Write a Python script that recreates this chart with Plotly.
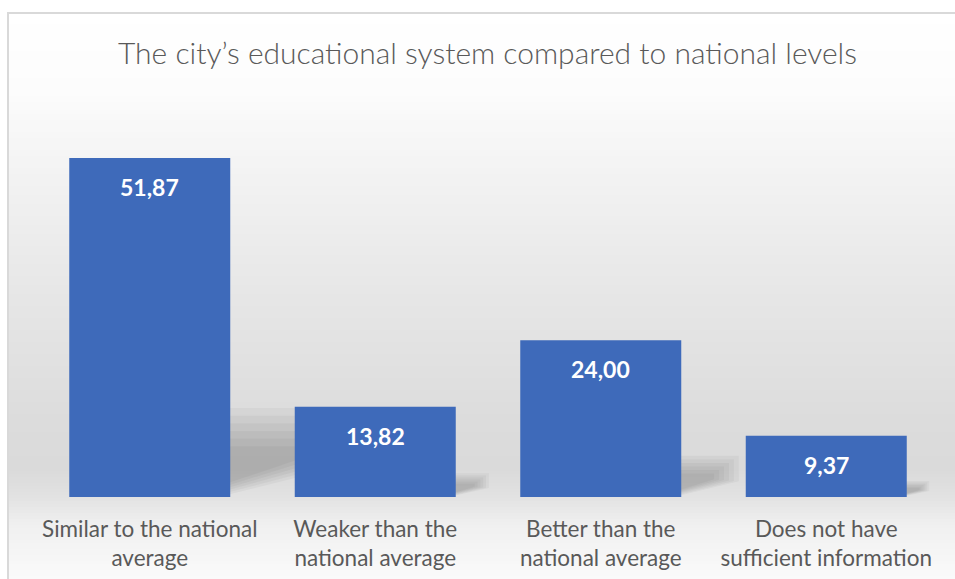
import plotly.graph_objects as go

categories = ["Similar to the national<br>average", "Weaker than the<br>national average",
              "Better than the<br>national average", "Does not have<br>sufficient information"]
values = [51.87, 13.82, 24.00, 9.37]
title_text = "The city’s educational system compared to national levels"

W, H = 955, 579
ML, MR, MT, MB = 37, 16, 105, 82
PW, PH = W - ML - MR, H - MT - MB
Y_MAX = 60
BAR_W = 0.714

def px_to_paper_y(py):
    return (H - MB - py) / PH

def px_to_paper_x(px):
    return (px - ML) / PW

# background gradient stops (pixel y, gray level)
stops = [(12, 255), (90, 252), (180, 242), (300, 230), (420, 220), (470, 218), (497, 226), (525, 240), (579, 250)]

def gray_at(py):
    for (y0, g0), (y1, g1) in zip(stops, stops[1:]):
        if y0 <= py <= y1:
            t = (py - y0) / (y1 - y0)
            return g0 + (g1 - g0) * t
    return stops[-1][1]

shapes = []
step = 3
for py in range(12, H, step):
    g = int(round(gray_at(py + step / 2)))
    shapes.append(dict(type="rect", xref="paper", yref="paper", layer="below",
                       x0=px_to_paper_x(7), x1=px_to_paper_x(W + 5),
                       y0=px_to_paper_y(min(py + step, H + 5)), y1=px_to_paper_y(py),
                       line=dict(width=0), fillcolor=f"rgb({g},{g},{g})"))

# soft perspective shadows behind bars (derived from bar values)
px_per_y = PH / Y_MAX
px_per_cat = PW / len(categories)
for i, v in enumerate(values):
    R = i + BAR_W / 2
    h = 0.25 * v
    e = 0.35 * v * px_per_y / px_per_cat
    for k in range(6):
        d = 0.09 * k
        top = h * (1.05 - d)
        right = R + e * (1.05 - d)
        low_right = h * (0.4 + 0.12 * d)
        low_left = h * (0.02 + 0.3 * d)
        path = (f"M {R - 0.02} {low_left} L {R - 0.02} {top} L {right} {top} "
                f"L {right} {low_right} Z")
        shapes.append(dict(type="path", xref="x", yref="y", layer="below", path=path,
                           line=dict(width=0), fillcolor="rgba(0,0,0,0.035)"))

# border
shapes.append(dict(type="rect", xref="paper", yref="paper", layer="above",
                   x0=px_to_paper_x(8), x1=px_to_paper_x(W + 20),
                   y0=px_to_paper_y(H + 20), y1=px_to_paper_y(13),
                   line=dict(color="#d9d9d9", width=2), fillcolor="rgba(0,0,0,0)"))

fig = go.Figure()
fig.add_trace(go.Bar(x=categories, y=values, marker=dict(color="#3e6aba", line=dict(width=0)),
                     width=BAR_W, hoverinfo="skip"))

annotations = []
for c, v in zip(categories, values):
    annotations.append(dict(x=c, y=v, xref="x", yref="y", yshift=-29, showarrow=False,
                            text=f"<b>{v:.2f}</b>".replace(".", ","), yanchor="middle",
                            font=dict(family="Lato", size=23, color="white")))
annotations.append(dict(x=px_to_paper_x(487), y=px_to_paper_y(52), xref="paper", yref="paper",
                        showarrow=False, text=title_text, xanchor="center", yanchor="middle",
                        font=dict(family="Lato", size=30, color="#595959", weight=300)))

fig.update_layout(
    width=W, height=H, margin=dict(l=ML, r=MR, t=MT, b=MB, autoexpand=False),
    paper_bgcolor="white", plot_bgcolor="rgba(0,0,0,0)",
    showlegend=False, shapes=shapes, annotations=annotations,
    xaxis=dict(showgrid=False, zeroline=False, showline=False, ticks="",
               tickfont=dict(family="Lato", size=22.5, color="#595959"),
               ticklabelstandoff=16, automargin=False,
               range=[-0.5, 3.5], fixedrange=True),
    yaxis=dict(range=[0, Y_MAX], showgrid=False, zeroline=False, showline=False,
               showticklabels=False, fixedrange=True, automargin=False),
)
fig.write_html("out.html", config={"displayModeBar": False},
               post_script="document.body.style.margin='0';document.body.style.padding='0';document.body.style.overflow='hidden';")
